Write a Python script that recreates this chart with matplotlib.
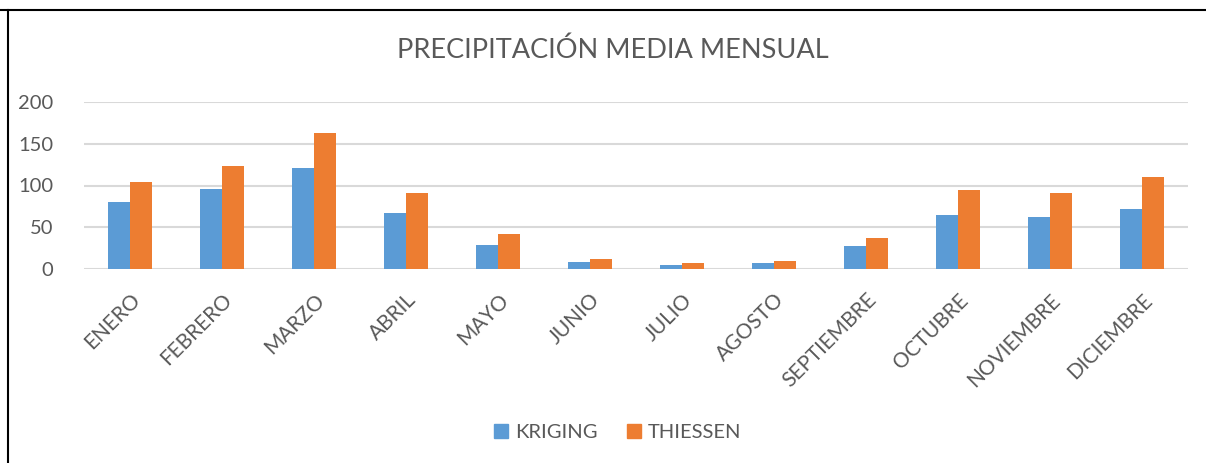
import numpy as np
import matplotlib
matplotlib.use("Agg")
import matplotlib.pyplot as plt
from matplotlib.lines import Line2D

meses = ["ENERO", "FEBRERO", "MARZO", "ABRIL", "MAYO", "JUNIO", "JULIO",
         "AGOSTO", "SEPTIEMBRE", "OCTUBRE", "NOVIEMBRE", "DICIEMBRE"]
kriging = [80.0, 95.6, 121.2, 66.8, 29.2, 8.4, 4.8, 7.6, 28.0, 64.8, 62.4, 72.0]
thiessen = [104.4, 123.2, 162.8, 91.6, 42.0, 12.4, 7.2, 9.2, 37.6, 94.8, 90.8, 110.4]

AZUL = "#5B9BD5"
NARANJA = "#ED7D31"
TEXTO = "#595959"

plt.rcParams["font.family"] = ["Lato", "DejaVu Sans"]

fig = plt.figure(figsize=(12.06, 4.63), dpi=100)
ax = fig.add_axes([84 / 1206, 1 - 269 / 463, (1188 - 84) / 1206, (269 - 102) / 463])

x = np.arange(len(meses))
w = 0.24
ax.bar(x - w / 2, kriging, w, color=AZUL, label="KRIGING", zorder=3)
ax.bar(x + w / 2, thiessen, w, color=NARANJA, label="THIESSEN", zorder=3)

ax.set_xlim(-0.5, len(meses) - 0.5)
ax.set_ylim(0, 200)
ax.set_yticks([0, 50, 100, 150, 200])
ax.grid(axis="y", color="#D9D9D9", linewidth=1.5, zorder=0)
for s in ax.spines.values():
    s.set_visible(False)
ax.tick_params(length=0, colors=TEXTO)
ax.tick_params(axis="y", pad=22, labelsize=14.5)
ax.set_xticks(x)
ax.set_xticklabels(meses, rotation=45, ha="right", rotation_mode="anchor")
ax.tick_params(axis="x", pad=15, labelsize=15)

fig.text(613 / 1206, 1 - 50 / 463, "PRECIPITACIÓN MEDIA MENSUAL", ha="center",
         va="center", fontsize=19.5, color=TEXTO)

handles = [Line2D([], [], marker="s", linestyle="none", markersize=10,
                  color=c) for c in (AZUL, NARANJA)]
fig.legend(handles, ["KRIGING", "THIESSEN"], loc="center",
           bbox_to_anchor=(616 / 1206, 1 - 432 / 463), ncol=2, frameon=False,
           fontsize=14.5, labelcolor=TEXTO, handletextpad=0.2,
           columnspacing=1.3, handlelength=1.0)

# marco del gráfico (solo arriba e izquierda visibles)
fig.add_artist(Line2D([0, 1], [1 - 9.5 / 463] * 2, color="black", linewidth=1.5))
fig.add_artist(Line2D([7.5 / 1206] * 2, [0, 1 - 9.5 / 463], color="black", linewidth=1.5))

fig.savefig("out.png", dpi=100)
